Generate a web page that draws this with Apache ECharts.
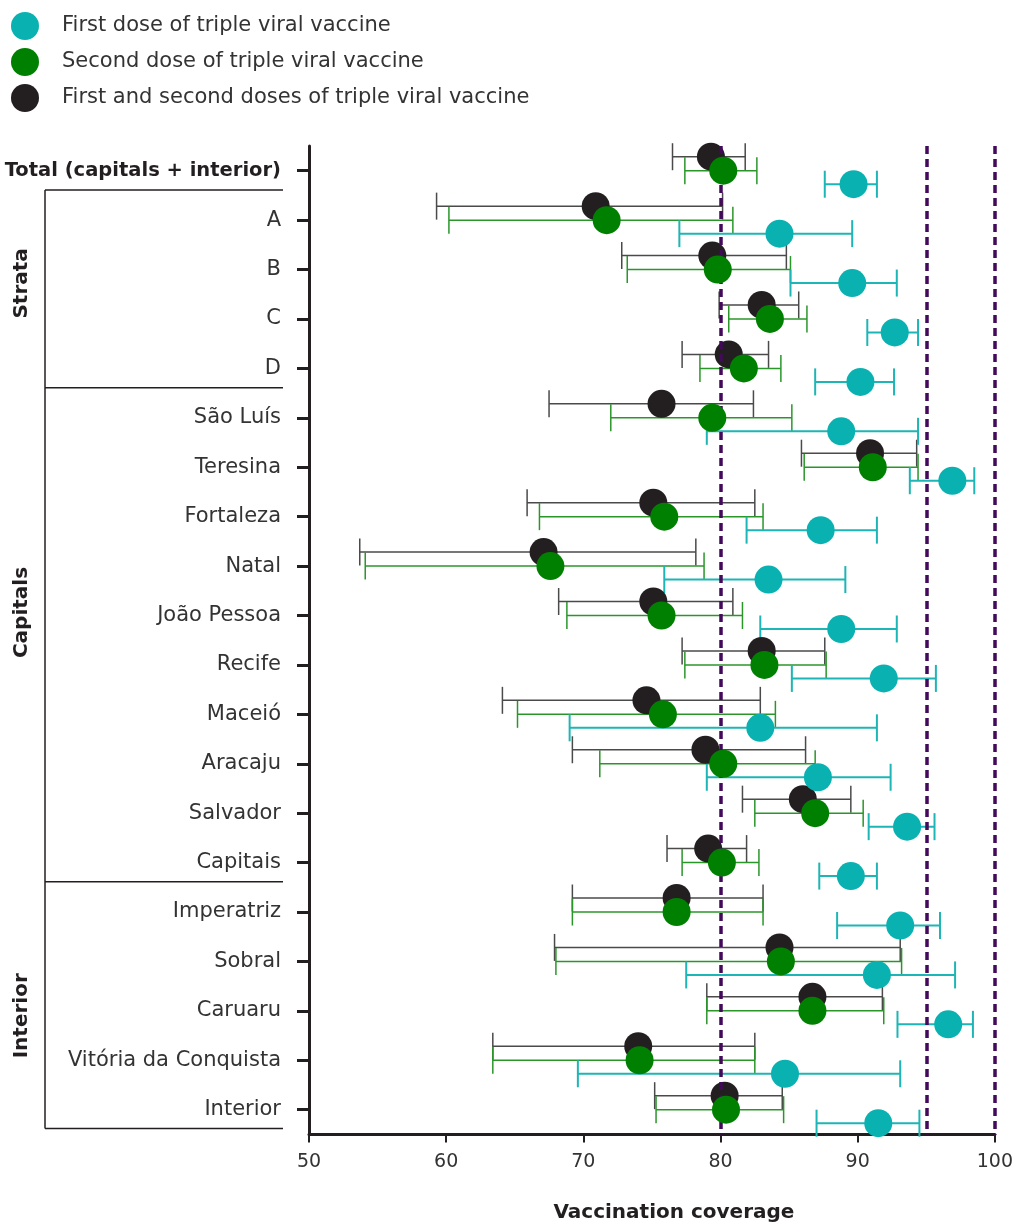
<!DOCTYPE html>
<html>
<head>
<meta charset="utf-8">
<script src="https://cdn.jsdelivr.net/npm/echarts@6/dist/echarts.min.js"></script>
<style>
html,body{margin:0;padding:0;background:#fff;}
#chart{width:1016px;height:1223px;}
</style>
</head>
<body>
<div id="chart"></div>
<script>
// ---- DATA ----
const categories = ['Total (capitals + interior)','A','B','C','D','São Luís','Teresina','Fortaleza','Natal','João Pessoa','Recife','Maceió','Aracaju','Salvador','Capitais','Imperatriz','Sobral','Caruaru','Vitória da Conquista','Interior'];

const firstDose     = [89.7,84.3,89.6,92.7,90.2,88.8,96.9,87.3,83.5,88.8,91.9,82.9,87.1,93.6,89.5,93.1,91.4,96.6,84.7,91.5];
const firstDoseLow  = [87.6,77.0,85.1,90.7,86.9,79.0,93.8,81.9,75.9,82.9,85.2,69.0,79.0,90.8,87.2,88.5,77.5,92.9,69.6,87.0];
const firstDoseHigh = [91.4,89.6,92.85,94.4,92.65,94.4,98.5,91.4,89.1,92.85,95.7,91.4,92.4,95.6,91.4,96.0,97.1,98.4,93.1,94.5];

const secondDose     = [80.2,71.7,79.8,83.6,81.7,79.4,91.1,75.9,67.6,75.7,83.2,75.8,80.2,86.9,80.1,76.8,84.4,86.7,74.1,80.4];
const secondDoseLow  = [77.4,60.2,73.2,80.6,78.5,72.0,86.1,66.8,54.1,68.8,77.4,65.2,71.2,82.5,77.2,69.2,68.0,79.0,63.4,75.3];
const secondDoseHigh = [82.65,80.9,85.1,86.3,84.4,85.2,94.4,83.1,78.8,81.6,87.7,84.0,86.9,90.4,82.8,83.1,93.2,91.9,82.5,84.6];

const bothDoses     = [79.3,70.9,79.4,83.0,80.6,75.7,90.9,75.1,67.1,75.1,83.0,74.6,78.9,86.0,79.1,76.8,84.3,86.7,74.0,80.3];
const bothDosesLow  = [76.5,59.3,72.8,79.9,77.2,67.5,85.9,65.9,53.7,68.2,77.2,64.1,69.2,81.6,76.1,69.2,67.9,79.0,63.4,75.2];
const bothDosesHigh = [81.8,80.15,84.8,85.7,83.5,82.4,94.3,82.5,78.2,80.9,87.6,82.9,86.2,89.5,81.9,83.1,93.1,91.8,82.5,84.5];

const seriesNames = ['First dose of triple viral vaccine','Second dose of triple viral vaccine','First and second doses of triple viral vaccine'];
const referenceLines = [80, 95, 100];
const xTicks = [50, 100, 10]; // min, max, interval

const groups = [
  {name:'Strata',   from:0.39, to:4.39,  labelAt:2.28},
  {name:'Capitals', from:4.39, to:14.39, labelAt:8.94},
  {name:'Interior', from:14.39, to:19.38, labelAt:17.1}
];

// ---- STYLE ----
const FONT = '"DejaVu Sans", "Noto Sans", sans-serif';
const C_CYAN = '#0ab1b1', C_GREEN = '#008000', C_BLACK = '#231f20';
const C_CYAN_BAR = '#1db5b5', C_GREEN_BAR = '#2a962a', C_BLACK_BAR = '#4a4a4a';
const DARK = '#231f20';

function errSeries(name, low, high, color, dy, width){
  return {
    type:'custom', name: name, z: 2, silent: true,
    data: low.map((l,i)=>[l, high[i], i]),
    encode: {x:[0,1], y:2},
    renderItem: function(params, api){
      const p1 = api.coord([api.value(0), api.value(2)]);
      const p2 = api.coord([api.value(1), api.value(2)]);
      const y = p1[1] + dy, h = 13.5;
      const st = {stroke: color, lineWidth: width};
      return {type:'group', children:[
        {type:'line', shape:{x1:p1[0], y1:y, x2:p2[0], y2:y}, style:st},
        {type:'line', shape:{x1:p1[0], y1:y-h, x2:p1[0], y2:y+h}, style:st},
        {type:'line', shape:{x1:p2[0], y1:y-h, x2:p2[0], y2:y+h}, style:st}
      ]};
    }
  };
}
function ptSeries(name, vals, color, dy, z){
  return {
    type:'scatter', name: name, z: z,
    data: vals.map((v,i)=>[v, i]),
    symbol:'circle', symbolSize: 28, symbolOffset:[0, dy],
    itemStyle:{color: color, opacity: 1},
    emphasis:{disabled:true}
  };
}

const chart = echarts.init(document.getElementById('chart'), null, {renderer:'canvas'});

const option = {
  animation: false,
  backgroundColor: '#fff',
  textStyle: {fontFamily: FONT},
  legend: {
    orient: 'vertical', left: 11, top: 12, padding: 0,
    itemWidth: 28, itemHeight: 28, itemGap: 8,
    icon: 'circle',
    selectedMode: false,
    textStyle: {fontSize: 21, color: '#333', fontFamily: FONT, padding:[0,0,0,18]},
    data: [
      {name: seriesNames[0], itemStyle:{color:C_CYAN}},
      {name: seriesNames[1], itemStyle:{color:C_GREEN}},
      {name: seriesNames[2], itemStyle:{color:C_BLACK}}
    ]
  },
  grid: {left: 309, right: 18, top: 146, height: 988.4},
  xAxis: {
    type: 'value', min: xTicks[0], max: xTicks[1], interval: xTicks[2],
    axisLine: {show:true, lineStyle:{color:DARK, width:3}},
    axisTick: {show:true, length:8, lineStyle:{color:DARK, width:2}},
    axisLabel: {fontSize:19, color:'#333', margin:18, fontFamily: FONT},
    splitLine: {show:false}
  },
  yAxis: {
    type: 'category', inverse: true, data: categories,
    axisLine: {show:true, lineStyle:{color:DARK, width:3}},
    axisTick: {show:true, alignWithLabel:true, length:12, lineStyle:{color:DARK, width:3}},
    axisLabel: {
      fontSize:21, color:'#333', margin:28, fontFamily: FONT,
      formatter: function(v, i){ return i === 0 ? '{b|' + v + '}' : v; },
      rich: {b:{fontSize:19.5, fontWeight:'bold', color:'#231f20', fontFamily: FONT}}
    },
    splitLine: {show:false}
  },
  series: [
    errSeries(seriesNames[2], bothDosesLow, bothDosesHigh, C_BLACK_BAR, -14, 1.5),
    errSeries(seriesNames[1], secondDoseLow, secondDoseHigh, C_GREEN_BAR, 0, 1.5),
    errSeries(seriesNames[0], firstDoseLow, firstDoseHigh, C_CYAN_BAR, 13.5, 2),
    {
      type:'scatter', name:'ref', data: [], z: 2.5, silent: true,
      markLine: {
        silent: true, symbol: 'none', label:{show:false},
        lineStyle: {color:'#43095a', width:3.5, type:[8,5]},
        emphasis: {disabled: true},
        data: referenceLines.map(v=>({xAxis:v}))
      }
    },
    ptSeries(seriesNames[2], bothDoses, C_BLACK, -14, 4),
    ptSeries(seriesNames[1], secondDose, C_GREEN, 0, 5),
    ptSeries(seriesNames[0], firstDose, C_CYAN, 13.5, 6)
  ]
};
chart.setOption(option);

// decorations: group brackets & axis title, positioned from the axis scale
const y0 = chart.convertToPixel({yAxisIndex:0}, categories[0]);
const y1 = chart.convertToPixel({yAxisIndex:0}, categories[1]);
const step = y1 - y0;
const yOf = v => y0 + v * step;
const xAxisY = chart.convertToPixel({yAxisIndex:0}, categories[categories.length-1]) + step*0.5;
const gfx = [];
const bx = 45, bx2 = 283;
gfx.push({type:'line', shape:{x1:bx, y1:yOf(groups[0].from), x2:bx, y2:yOf(groups[groups.length-1].to)}, style:{stroke:DARK, lineWidth:1.5}});
groups.forEach((g, gi) => {
  if (gi === 0) gfx.push({type:'line', shape:{x1:bx, y1:yOf(g.from), x2:bx2, y2:yOf(g.from)}, style:{stroke:DARK, lineWidth:1.5}});
  gfx.push({type:'line', shape:{x1:bx, y1:yOf(g.to), x2:bx2, y2:yOf(g.to)}, style:{stroke:DARK, lineWidth:1.5}});
  gfx.push({type:'text', x:22, y:yOf(g.labelAt), rotation:Math.PI/2,
    style:{text:g.name, font:'bold 20px ' + FONT, fill:'#231f20', align:'center', verticalAlign:'middle'}});
});
const xMid = chart.convertToPixel({xAxisIndex:0}, 76.6);
gfx.push({type:'text', x:xMid, y:xAxisY + 78,
  style:{text:'Vaccination coverage', font:'bold 20px ' + FONT, fill:'#231f20', align:'center', verticalAlign:'middle'}});
chart.setOption({graphic: gfx});
</script>
</body>
</html>
